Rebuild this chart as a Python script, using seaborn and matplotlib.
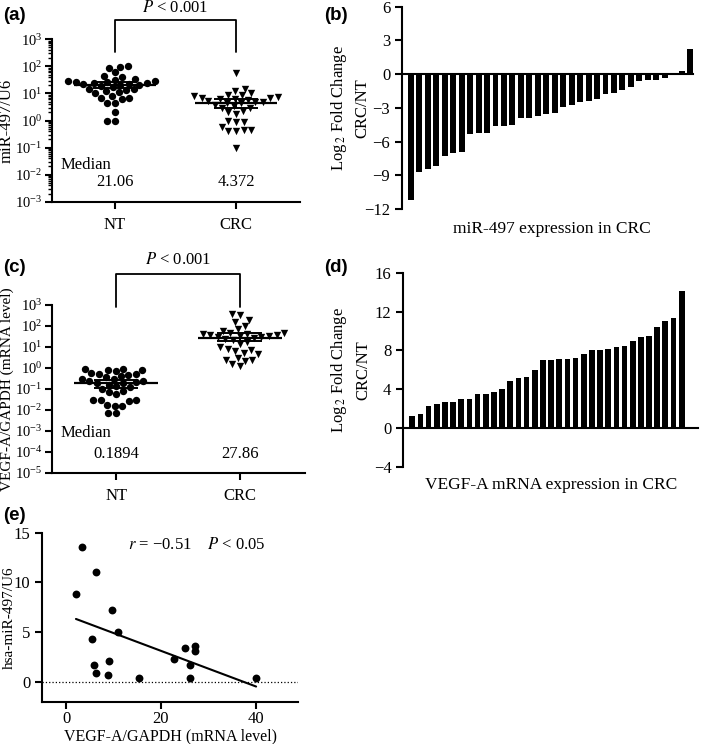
import numpy as np
import pandas as pd
import matplotlib
matplotlib.use("Agg")
import matplotlib.pyplot as plt
import seaborn as sns

# ---------------- data ----------------
groups = ["NT", "CRC"]

mir_nt = [100, 95, 90, 60, 45, 40, 35, 32, 30, 28, 27, 26, 25, 24, 23, 22, 21.1,
          21.0, 19, 17, 15, 14, 13, 12, 11, 10, 8, 7, 6.5, 6, 4.5, 4.5, 2.0, 1.0, 1.0]
mir_crc = [58, 15, 12, 10, 9, 8.5, 8, 7.5, 7, 6.5, 6.4, 6.0, 5.6, 5.2, 5.0, 4.7, 4.4,
           4.3, 3.6, 3.3, 3.0, 2.8, 2.2, 2.0, 1.8, 0.95, 0.9, 0.85, 0.6, 0.45, 0.44,
           0.42, 0.4, 0.096]
mir_medians = [21.06, 4.372]
mir_err_lo = [16.0, 2.8]
mir_err_hi = [26.0, 6.4]

vegf_nt = [0.9, 0.85, 0.8, 0.8, 0.75, 0.55, 0.5, 0.5, 0.45, 0.4, 0.35, 0.3, 0.28, 0.25,
           0.23, 0.21, 0.19, 0.188, 0.16, 0.14, 0.12, 0.1, 0.08, 0.07, 0.06, 0.03, 0.03,
           0.028, 0.025, 0.017, 0.016, 0.015, 0.0068, 0.007]
vegf_crc = [370, 330, 200, 150, 100, 70, 55, 48, 45, 42, 40, 38, 36, 34, 32, 30, 28.5,
            27, 24, 21, 18, 14, 10, 8, 7, 6.5, 5, 4.5, 3, 2.5, 2.5, 2.2, 1.5, 1.2]
vegf_medians = [0.1894, 27.86]
vegf_err_lo = [0.11, 20.0]
vegf_err_hi = [0.26, 48.0]

mir_fc = [-11.2, -8.75, -8.45, -8.2, -7.3, -7.0, -6.9, -5.3, -5.2, -5.2, -4.65, -4.65,
          -4.5, -3.9, -3.9, -3.7, -3.55, -3.5, -2.95, -2.75, -2.45, -2.35, -2.2, -1.75,
          -1.7, -1.4, -1.15, -0.65, -0.55, -0.5, -0.3, 0.02, 0.24, 2.25]
vegf_fc = [1.24, 1.45, 2.28, 2.5, 2.7, 2.7, 3.0, 3.0, 3.5, 3.55, 3.75, 4.07, 4.9, 5.15,
           5.3, 5.97, 7.0, 7.0, 7.17, 7.17, 7.24, 7.6, 8.0, 8.0, 8.2, 8.4, 8.45, 9.0,
           9.38, 9.48, 10.38, 11.03, 11.34, 14.1]

corr_x = [3.4, 6.4, 2.1, 9.7, 11.0, 5.5, 5.9, 6.4, 9.0, 8.9, 15.4, 22.8, 25.2, 26.2,
          26.1, 27.3, 27.3, 40.1]
corr_y = [13.57, 11.0, 8.87, 7.2, 5.03, 4.33, 1.7, 0.9, 2.13, 0.7, 0.43, 2.33, 3.37,
          1.7, 0.37, 3.6, 3.13, 0.37]

# ---------------- style ----------------
sns.set_style("ticks")
plt.rcParams["font.family"] = ["Liberation Serif", "DejaVu Serif"]
plt.rcParams["mathtext.fontset"] = "stix"
plt.rcParams.update({
    "axes.linewidth": 1.5,
    "xtick.major.width": 1.5, "ytick.major.width": 1.5,
    "xtick.minor.width": 1.0, "ytick.minor.width": 1.0,
    "xtick.major.size": 5, "ytick.major.size": 5,
    "ytick.minor.size": 3,
    "xtick.direction": "out", "ytick.direction": "out",
    "axes.edgecolor": "black", "xtick.color": "black", "ytick.color": "black",
    "text.color": "black", "axes.labelcolor": "black",
})

W, H = 709, 744
fig = plt.figure(figsize=(W / 100, H / 100), dpi=100)


def px_axes(left, top, right, bottom):
    return fig.add_axes([left / W, 1 - bottom / H, (right - left) / W, (bottom - top) / H])


def dot_panel(ax, nt, crc, medians, lo, hi, ylim, yticks, ylabel, ylabel_fs, median_y,
              val_y, br_top, br_leg, p_y, ylabel_x):
    df = pd.DataFrame({"group": ["NT"] * len(nt) + ["CRC"] * len(crc),
                       "value": list(nt) + list(crc)})
    sns.swarmplot(data=df[df.group == "NT"], x="group", y="value", order=groups,
                  marker="o", color="black", size=5.3, ax=ax, log_scale=True)
    sns.swarmplot(data=df[df.group == "CRC"], x="group", y="value", order=groups,
                  marker="v", color="black", size=5.3, ax=ax, log_scale=True)
    pos = np.arange(len(groups))
    ax.hlines(medians, pos - 0.34, pos + 0.34, color="black", lw=1.6, zorder=5)
    ax.vlines(pos, lo, hi, color="black", lw=1.4, zorder=5)
    ax.hlines(lo, pos - 0.18, pos + 0.18, color="black", lw=1.4, zorder=5)
    ax.hlines(hi, pos - 0.18, pos + 0.18, color="black", lw=1.4, zorder=5)
    ax.set_xlim(-0.52, 1.53)
    ax.set_ylim(*ylim)
    ax.set_yticks(yticks)
    ax.set_xlabel("")
    ax.set_ylabel(ylabel, fontsize=ylabel_fs)
    ax.yaxis.set_label_coords(ylabel_x, 0.5)
    ax.tick_params(axis="y", labelsize=10.5, pad=2)
    ax.tick_params(axis="x", labelsize=12, pad=6)
    sns.despine(ax=ax)
    trans = ax.get_xaxis_transform()
    ax.text(-0.45, median_y, "Median", transform=trans, fontsize=12, ha="left", va="center")
    for i, m in enumerate(medians):
        ax.text(pos[i], val_y, f"{m:g}", transform=trans, fontsize=12, ha="center", va="center")
    ax.plot([0, 0, 1, 1], [br_leg, br_top, br_top, br_leg], transform=trans,
            clip_on=False, color="black", lw=1.3)
    ax.text(0.5, p_y, "$P$ < 0.001", transform=trans, fontsize=12, ha="center", va="center")


# (a)
ax_a = px_axes(52, 39.3, 300, 201.7)
dot_panel(ax_a, mir_nt, mir_crc, mir_medians, mir_err_lo, mir_err_hi,
          (1e-3, 1e3), [10.0 ** k for k in range(-3, 4)], "miR-497/U6", 12,
          0.226, 0.121, 1.119, 0.922, 1.193, -0.15)

# (c)
ax_c = px_axes(52, 305, 305, 472.7)
dot_panel(ax_c, vegf_nt, vegf_crc, vegf_medians, vegf_err_lo, vegf_err_hi,
          (1e-5, 1e3), [10.0 ** k for k in range(-5, 4)], "VEGF-A/GAPDH (mRNA level)", 11,
          0.235, 0.111, 1.185, 0.99, 1.27, -0.15)


def bar_panel(ax, vals, ylim, yticks, xlim, xlabel, xlabel_pos):
    sns.barplot(x=np.arange(len(vals)), y=vals, color="black", saturation=1,
                width=0.7, ax=ax, linewidth=0)
    ax.set_xlim(*xlim)
    ax.set_ylim(*ylim)
    ax.set_yticks(yticks)
    ax.set_xticks([])
    ax.spines["top"].set_visible(False)
    ax.spines["right"].set_visible(False)
    ax.spines["bottom"].set_position(("data", 0))
    ax.tick_params(axis="y", labelsize=12)
    ax.set_ylabel("Log$_{\\,2}$ Fold Change\nCRC/NT", fontsize=12, linespacing=1.45)
    ax.yaxis.set_label_coords(-0.11, 0.5)
    ax.set_xlabel(xlabel, fontsize=12.5)
    ax.xaxis.set_label_coords(*xlabel_pos)


# (b)
ax_b = px_axes(402, 6.7, 693, 209)
bar_panel(ax_b, mir_fc, (-12, 6), [6, 3, 0, -3, -6, -9, -12], (-1.06, 33.35),
          "miR-497 expression in CRC", (0.515, -0.06))

# (d)
ax_d = px_axes(403.3, 273, 698, 466.7)
bar_panel(ax_d, vegf_fc, (-4, 16), [16, 12, 8, 4, 0, -4], (-1.1, 35.0),
          "VEGF-A mRNA expression in CRC", (0.5, -0.055))

# (e)
ax_e = px_axes(42.3, 532.7, 298.3, 701.7)
sns.regplot(x=corr_x, y=corr_y, ci=None, ax=ax_e, color="black", truncate=True,
            scatter_kws={"s": 32, "linewidths": 0, "alpha": 1},
            line_kws={"lw": 1.5})
ax_e.axhline(0, ls=":", lw=0.9, color="black", zorder=0)
ax_e.set_xlim(-5, 49)
ax_e.set_ylim(-2, 15)
ax_e.set_xticks([0, 20, 40])
ax_e.set_yticks([0, 5, 10, 15])
ax_e.tick_params(axis="both", labelsize=12)
ax_e.tick_params(axis="x", pad=2)
sns.despine(ax=ax_e)
ax_e.set_xlabel("VEGF-A/GAPDH (mRNA level)", fontsize=11.5, labelpad=0.5)
ax_e.set_ylabel("hsa-miR-497/U6", fontsize=11)
ax_e.yaxis.set_label_coords(-0.105, 0.5)
ax_e.text(0.335, 0.93, "$r$ = \u22120.51    $P$ < 0.05", transform=ax_e.transAxes,
          fontsize=12, ha="left", va="center")

# panel labels
for lab, x, y in [("(a)", 3, 15), ("(b)", 324, 15), ("(c)", 3, 268),
                  ("(d)", 324, 268), ("(e)", 3, 515)]:
    fig.text(x / W, 1 - y / H, lab, fontsize=13.5, fontweight="bold",
             family=["Liberation Sans", "DejaVu Sans"], ha="left", va="center")

fig.savefig("out.png", dpi=100)
